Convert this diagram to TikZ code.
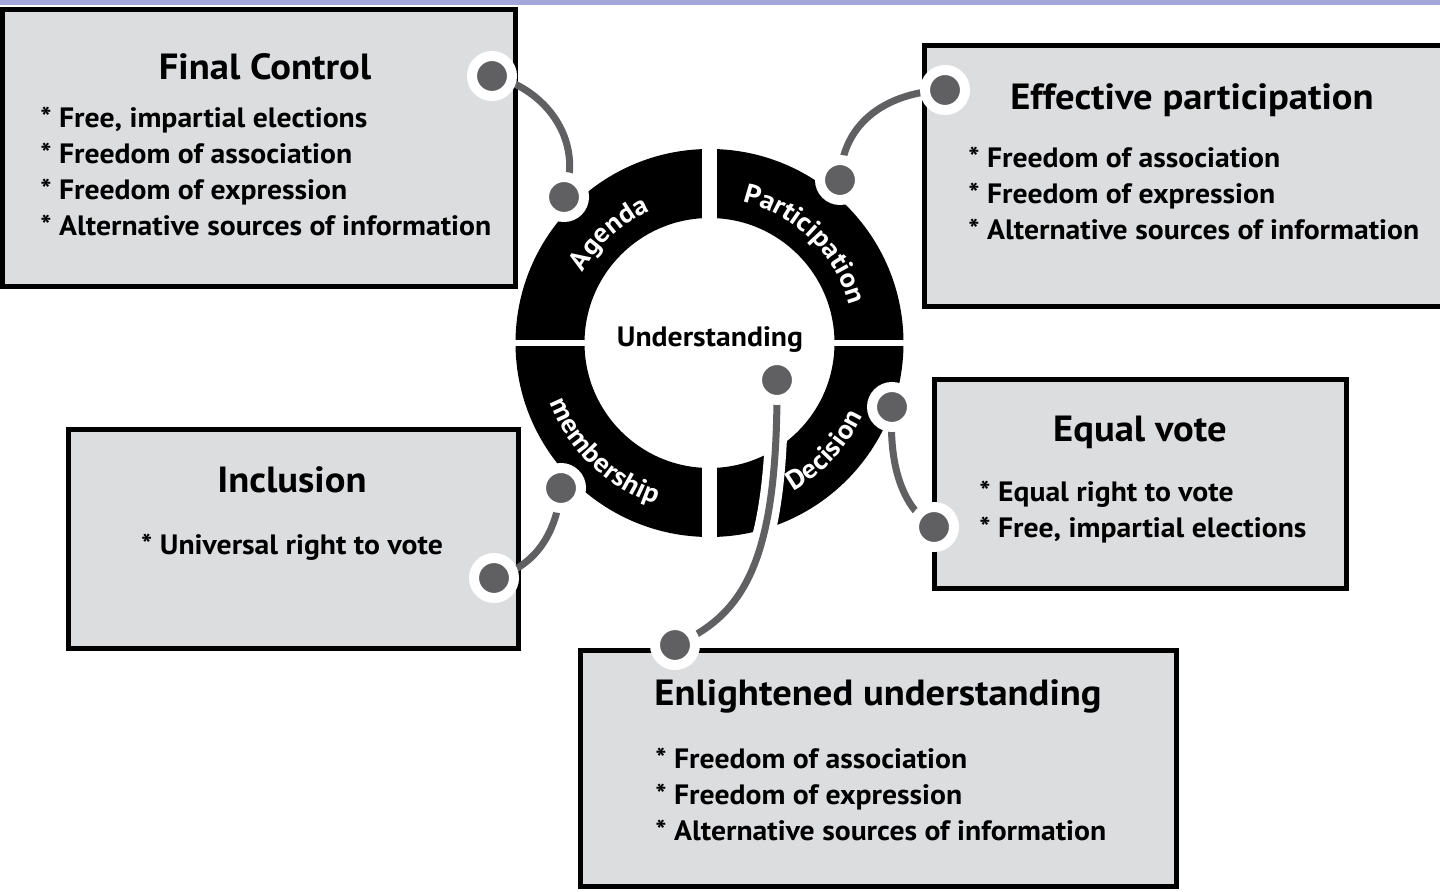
\documentclass[tikz,border=0pt]{standalone}
\usepackage{fontspec}
\setmainfont[FakeStretch=1.06]{PT Sans}
\usetikzlibrary{decorations.text}
\definecolor{barc}{HTML}{A2A6D9}
\definecolor{boxfill}{HTML}{DCDDDF}
\definecolor{dotc}{HTML}{606062}
\pgfdeclarelayer{back}
\pgfdeclarelayer{lines}
\pgfsetlayers{back,lines,main}
\begin{document}
\begin{tikzpicture}[x=0.5pt,y=0.5pt,
  box/.style={draw=black, fill=boxfill, line width=2.5pt, inner sep=0pt, rectangle},
  title/.style={anchor=base, font=\bfseries\fontsize{18.2}{20}\selectfont, inner sep=0pt},
  item/.style={anchor=base west, font=\bfseries\fontsize{14}{16}\selectfont, inner sep=0pt},
  dot/.style={circle, fill=dotc, draw=white, line width=5pt, minimum size=20pt, inner sep=0pt},
  conn/.style={draw=dotc, line width=3.5pt},
  casing/.style={draw=white, line width=11pt},
  ringlabel/.style={decorate, decoration={text along path, text align=center, text color=white, text={|\bfseries\fontsize{13.5}{13.5}\selectfont|#1}}}
]
\useasboundingbox (0,0) rectangle (1440,-892);
\begin{pgfonlayer}{back}
\fill[white] (0,0) rectangle (1440,-892);
\fill[barc] (0,0) rectangle (1440,-5);
% boxes
\node[box, minimum width=256.25pt, minimum height=138.5pt] (fcbox) at (258.75,-148.5) {};
\node[box, minimum width=270.5pt, minimum height=130.25pt] (epbox) at (1194.5,-176.25) {};
\node[box, minimum width=206pt, minimum height=104.25pt] (evbox) at (1140.5,-484.25) {};
\node[box, minimum width=225pt, minimum height=109pt] (inbox) at (293,-539) {};
\node[box, minimum width=298pt, minimum height=118pt] (eubox) at (878,-768) {};
% ring
\fill[black, even odd rule] (709.5,-343) circle[radius=97pt] (709.5,-343) circle[radius=62.5pt];
\fill[white] (702,-140) rectangle (717,-550);
\fill[white] (505,-340.5) rectangle (915,-346);
\path[ringlabel=Agenda] (709.5,-343) ++(177.5:72.5pt) arc[start angle=177.5, end angle=87.5, radius=72.5pt];
\path[ringlabel=Participation] (709.5,-343) ++(91:72.5pt) arc[start angle=91, end angle=1, radius=72.5pt];
\path[ringlabel=membership] (709.5,-343) ++(181:85pt) arc[start angle=181, end angle=271, radius=85pt];
\path[ringlabel=Decision] (709.5,-343) ++(272:85pt) arc[start angle=272, end angle=362, radius=85pt];
\end{pgfonlayer}
% dots
\node[dot] (fcout) at (492,-76) {};
\node[dot] (fcin) at (564,-197) {};
\node[dot] (epin) at (840,-180) {};
\node[dot] (epout) at (945,-90) {};
\node[dot] (dcin) at (892,-407) {};
\node[dot] (dcout) at (934,-527) {};
\node[dot] (mbin) at (561,-488) {};
\node[dot] (mbout) at (494,-578) {};
\node[dot] (euin) at (777,-380) {};
\node[dot] (euout) at (675,-645) {};
\begin{pgfonlayer}{lines}
\draw[conn] (fcout.center) .. controls (545,-88) and (585,-140) .. (fcin.center);
\draw[conn] (epin.center) .. controls (842,-120) and (890,-92) .. (epout.center);
\draw[conn] (dcin.center) .. controls (888,-470) and (905,-510) .. (dcout.center);
\draw[conn] (mbin.center) .. controls (556,-540) and (530,-568) .. (mbout.center);
\draw[casing] (euin.center) .. controls (778,-560) and (745,-615) .. (euout.center);
\draw[conn] (euin.center) .. controls (778,-560) and (745,-615) .. (euout.center);
\end{pgfonlayer}
% texts
\node[anchor=base, font=\bfseries\fontsize{14}{16}\selectfont, inner sep=0pt] (ctr) at (710,-347) {Understanding};
\node[title] (fct) at (265,-80) {Final Control};
\node[item] (fc1) at (40,-128) {* Free, impartial elections};
\node[item] (fc2) at (40,-164) {* Freedom of association};
\node[item] (fc3) at (40,-200) {* Freedom of expression};
\node[item] (fc4) at (40,-236) {* Alternative sources of information};
\node[title] (ept) at (1192,-110) {Effective participation};
\node[item] (ep1) at (968,-168) {* Freedom of association};
\node[item] (ep2) at (968,-204) {* Freedom of expression};
\node[item] (ep3) at (968,-240) {* Alternative sources of information};
\node[title] (evt) at (1140,-442) {Equal vote};
\node[item] (ev1) at (979,-502) {* Equal right to vote};
\node[item] (ev2) at (979,-538) {* Free, impartial elections};
\node[title] (int) at (292,-493) {Inclusion};
\node[item, anchor=base] (in1) at (292,-555) {* Universal right to vote};
\node[title] (eut) at (878,-705) {Enlightened understanding};
\node[item] (eu1) at (655,-768) {* Freedom of association};
\node[item] (eu2) at (655,-804) {* Freedom of expression};
\node[item] (eu3) at (655,-840) {* Alternative sources of information};
\end{tikzpicture}
\end{document}
